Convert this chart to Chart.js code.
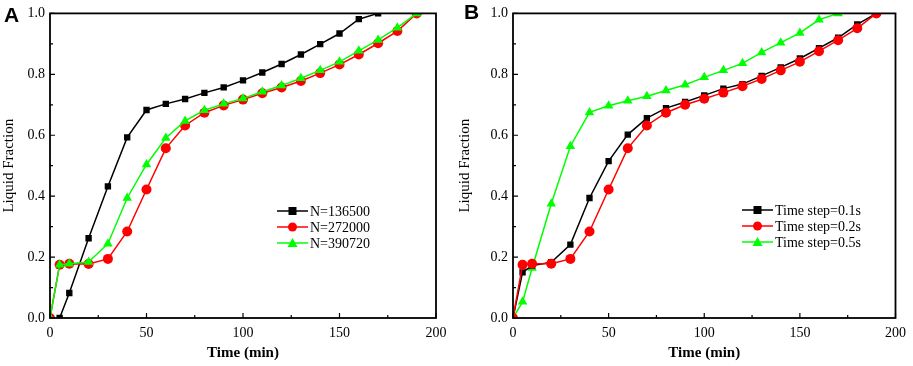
<!DOCTYPE html>
<html>
<head>
<meta charset="utf-8">
<script src="https://cdn.jsdelivr.net/npm/chart.js@4.4.1/dist/chart.umd.min.js"></script>
<style>
  body { margin: 0; background: #fff; }
  .panel { position: absolute; top: 0; height: 366px; }
  #wrapA { left: 0; width: 456px; }
  #wrapB { left: 456px; width: 457px; }
</style>
</head>
<body>
<div class="panel" id="wrapA"><canvas id="chartA"></canvas></div>
<div class="panel" id="wrapB"><canvas id="chartB"></canvas></div>
<script>
// time (min)
const timesA = [0, 5, 10, 20, 30, 40, 50, 60, 70, 80, 90, 100, 110, 120, 130, 140, 150, 160, 170, 180, 190];
const timesBlackA = [5, 10, 20, 30, 40, 50, 60, 70, 80, 90, 100, 110, 120, 130, 140, 150, 160, 170];
const n136500 = [0, 0.082, 0.262, 0.432, 0.593, 0.683, 0.703, 0.719, 0.739, 0.757, 0.780, 0.806, 0.834, 0.865, 0.899, 0.934, 0.981, 1.0];
const n272000 = [0, 0.175, 0.178, 0.177, 0.194, 0.284, 0.422, 0.557, 0.632, 0.674, 0.698, 0.717, 0.738, 0.757, 0.778, 0.804, 0.832, 0.865, 0.902, 0.942, 1.0];
const n390720 = [0, 0.175, 0.178, 0.184, 0.244, 0.394, 0.504, 0.591, 0.647, 0.682, 0.703, 0.721, 0.743, 0.763, 0.787, 0.813, 0.841, 0.877, 0.913, 0.953, 1.0];

const timesB = [0, 5, 10, 20, 30, 40, 50, 60, 70, 80, 90, 100, 110, 120, 130, 140, 150, 160, 170, 180, 190];
const timesGreenB = [0, 5, 10, 20, 30, 40, 50, 60, 70, 80, 90, 100, 110, 120, 130, 140, 150, 160, 170];
const step01 = [0, 0.150, 0.172, 0.183, 0.241, 0.394, 0.515, 0.602, 0.656, 0.689, 0.709, 0.731, 0.753, 0.768, 0.795, 0.823, 0.852, 0.886, 0.920, 0.964, 1.0];
const step02 = [0, 0.175, 0.178, 0.178, 0.194, 0.284, 0.422, 0.557, 0.632, 0.674, 0.700, 0.720, 0.740, 0.761, 0.785, 0.813, 0.841, 0.876, 0.912, 0.951, 1.0];
const step05 = [0, 0.053, 0.164, 0.375, 0.564, 0.675, 0.697, 0.713, 0.728, 0.747, 0.766, 0.790, 0.813, 0.836, 0.872, 0.904, 0.936, 0.979, 1.0];

const xTicks = [0, 50, 100, 150, 200];
const xMinor = [25, 75, 125, 175];
const yTicks = [0, 0.2, 0.4, 0.6, 0.8, 1.0];
const yMinor = [0.1, 0.3, 0.5, 0.7, 0.9];

const serif = "'Liberation Serif', 'Times New Roman', serif";

function pts(xs, ys) {
  return xs.map((x, i) => ({ x: x, y: ys[i] }));
}

function series(label, data, color, style, radius, order) {
  return {
    label: label,
    data: data,
    borderColor: color,
    backgroundColor: color,
    pointStyle: style,
    pointRadius: radius,
    pointHoverRadius: radius,
    borderWidth: 1.5,
    pointBorderWidth: 0,
    tension: 0,
    order: order,
  };
}

// frame, inward ticks, legend and panel letter
const decor = {
  id: "decor",
  afterDraw(chart, args, opts) {
    const ctx = chart.ctx;
    const a = chart.chartArea;
    const xs = chart.scales.x;
    const ys = chart.scales.y;
    ctx.save();
    ctx.strokeStyle = "#000";
    ctx.lineWidth = 1.8;
    ctx.strokeRect(a.left, a.top, a.right - a.left, a.bottom - a.top);
    ctx.lineWidth = 1.2;
    ctx.beginPath();
    xTicks.forEach((v) => {
      const px = xs.getPixelForValue(v);
      ctx.moveTo(px, a.bottom);
      ctx.lineTo(px, a.bottom - 5);
    });
    xMinor.forEach((v) => {
      const px = xs.getPixelForValue(v);
      ctx.moveTo(px, a.bottom);
      ctx.lineTo(px, a.bottom - 3);
    });
    yTicks.forEach((v) => {
      const py = ys.getPixelForValue(v);
      ctx.moveTo(a.left, py);
      ctx.lineTo(a.left + 5, py);
    });
    yMinor.forEach((v) => {
      const py = ys.getPixelForValue(v);
      ctx.moveTo(a.left, py);
      ctx.lineTo(a.left + 3, py);
    });
    ctx.stroke();

    // legend
    ctx.font = "14px " + serif;
    ctx.textBaseline = "middle";
    ctx.textAlign = "left";
    chart.data.datasets.forEach((ds, i) => {
      const y = opts.legendY + i * 16;
      const x0 = opts.legendX;
      ctx.strokeStyle = ds.borderColor;
      ctx.lineWidth = 1.5;
      ctx.beginPath();
      ctx.moveTo(x0, y);
      ctx.lineTo(x0 + 31, y);
      ctx.stroke();
      ctx.fillStyle = ds.backgroundColor;
      ctx.beginPath();
      if (ds.pointStyle === "rect") {
        ctx.fillRect(x0 + 15.5 - 4, y - 4, 8, 8);
      } else if (ds.pointStyle === "circle") {
        ctx.arc(x0 + 15.5, y, 4.5, 0, Math.PI * 2);
        ctx.fill();
      } else {
        ctx.moveTo(x0 + 15.5, y - 5);
        ctx.lineTo(x0 + 20.5, y + 4);
        ctx.lineTo(x0 + 10.5, y + 4);
        ctx.closePath();
        ctx.fill();
      }
      ctx.fillStyle = "#000";
      ctx.fillText(ds.label, x0 + 33, y + 1);
    });

    // panel letter
    ctx.font = "bold 21px 'Liberation Sans', Arial, sans-serif";
    ctx.textBaseline = "top";
    ctx.fillText(opts.letter, opts.letterX, opts.letterY);
    ctx.restore();
  },
};

function makeChart(id, datasets, yWidth, padRight, padTop, letter, letterX, letterY, legendX, legendY) {
  return new Chart(document.getElementById(id), {
    type: "line",
    data: { datasets: datasets },
    plugins: [decor],
    options: {
      responsive: true,
      maintainAspectRatio: false,
      animation: false,
      layout: { padding: { left: 0, right: padRight, top: padTop, bottom: 0 } },
      plugins: {
        legend: { display: false },
        tooltip: { enabled: false },
        decor: { letter: letter, letterX: letterX, letterY: letterY, legendX: legendX, legendY: legendY },
      },
      scales: {
        x: {
          type: "linear",
          min: 0,
          max: 200,
          grid: { display: false, drawTicks: false },
          border: { display: false },
          afterBuildTicks: (s) => { s.ticks = xTicks.map((v) => ({ value: v })); },
          afterFit: (s) => { s.height = 48; },
          ticks: { color: "#000", font: { family: serif, size: 14 }, padding: 7, maxRotation: 0 },
          title: { display: true, text: "Time (min)", color: "#000", font: { family: serif, size: 15, weight: "bold" }, padding: { top: 2 } },
        },
        y: {
          min: 0,
          max: 1,
          grid: { display: false, drawTicks: false },
          border: { display: false },
          afterBuildTicks: (s) => { s.ticks = yTicks.map((v) => ({ value: v })); },
          afterFit: (s) => { s.width = yWidth; },
          ticks: { color: "#000", font: { family: serif, size: 14 }, padding: 5, callback: (v) => v.toFixed(1) },
          title: { display: true, text: "Liquid Fraction", color: "#000", font: { family: serif, size: 15 }, padding: { top: 0, bottom: 2 } },
        },
      },
    },
  });
}

makeChart(
  "chartA",
  [
    series("N=136500", pts(timesBlackA, n136500), "#000000", "rect", 4.5, 2),
    series("N=272000", pts(timesA, n272000), "#ff0000", "circle", 5, 1),
    series("N=390720", pts(timesA, n390720), "#00ff00", "triangle", 5.5, 0),
  ],
  50, 20, 8, "A", 4, 6, 277, 211
);

makeChart(
  "chartB",
  [
    series("Time step=0.1s", pts(timesB, step01), "#000000", "rect", 4.5, 1),
    series("Time step=0.2s", pts(timesB, step02), "#ff0000", "circle", 5, 0),
    series("Time step=0.5s", pts(timesGreenB, step05), "#00ff00", "triangle", 5.5, 2),
  ],
  57, 12, 6, "B", 8, 3, 286, 210
);
</script>
</body>
</html>
